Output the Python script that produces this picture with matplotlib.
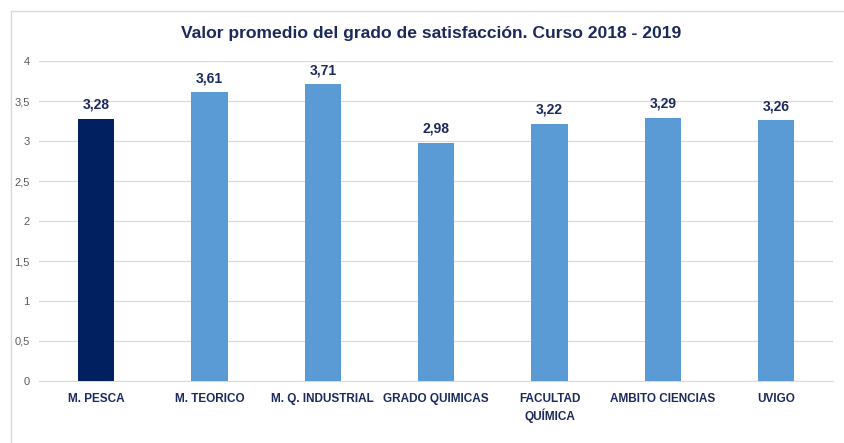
import matplotlib
matplotlib.use("Agg")
import matplotlib.pyplot as plt
from matplotlib.lines import Line2D

# Datos del gráfico
categorias = ["M. PESCA", "M. TEORICO", "M. Q. INDUSTRIAL", "GRADO QUIMICAS",
              "FACULTAD\nQUÍMICA", "AMBITO CIENCIAS", "UVIGO"]
valores = [3.28, 3.61, 3.71, 2.98, 3.22, 3.29, 3.26]
ticks_y = [0, 0.5, 1, 1.5, 2, 2.5, 3, 3.5, 4]

AZUL_OSCURO = "#002060"
AZUL_CLARO = "#5B9BD5"
TEXTO = "#1B2A5C"

plt.rcParams["font.family"] = ["Liberation Sans", "DejaVu Sans"]

fig = plt.figure(figsize=(8.44, 4.43), dpi=100)
ax = fig.add_axes([0.0468, 0.140, 0.940, 0.722])

x = range(len(categorias))
colores = [AZUL_OSCURO] + [AZUL_CLARO] * (len(categorias) - 1)
barras = ax.bar(x, valores, width=0.32, color=colores, zorder=3)

etiquetas = [f"{v:.2f}".replace(".", ",") for v in valores]
ax.bar_label(barras, labels=etiquetas, padding=5, fontsize=10,
             fontweight="bold", color=TEXTO)

ax.set_xlim(-0.5, len(categorias) - 0.5)
ax.set_ylim(0, 4)
ax.set_yticks(ticks_y)
ax.set_yticklabels([f"{t:g}".replace(".", ",") for t in ticks_y])
ax.set_xticks(list(x))
ax.set_xticklabels(categorias, fontsize=8.5, fontweight="bold", color=TEXTO,
                   linespacing=1.3, va="top")

ax.grid(axis="y", color="#D9D9D9", linewidth=0.9, zorder=0)
for lado in ["top", "right", "left"]:
    ax.spines[lado].set_visible(False)
ax.spines["bottom"].set_color("#D9D9D9")
ax.tick_params(axis="y", length=0, labelsize=8, labelcolor="#595959", pad=7)
ax.tick_params(axis="x", length=0, pad=9)

fig.text(0.511, 0.925, "Valor promedio del grado de satisfacción. Curso 2018 - 2019",
         ha="center", va="center", fontsize=12.6, fontweight="bold", color=TEXTO)

# borde del gráfico (arriba e izquierda)
fig.add_artist(Line2D([11 / 844, 1], [1 - 11 / 443, 1 - 11 / 443],
                      transform=fig.transFigure, color="#D9D9D9", linewidth=1))
fig.add_artist(Line2D([11 / 844, 11 / 844], [0, 1 - 11 / 443],
                      transform=fig.transFigure, color="#D9D9D9", linewidth=1))

fig.savefig("out.png", dpi=100)
